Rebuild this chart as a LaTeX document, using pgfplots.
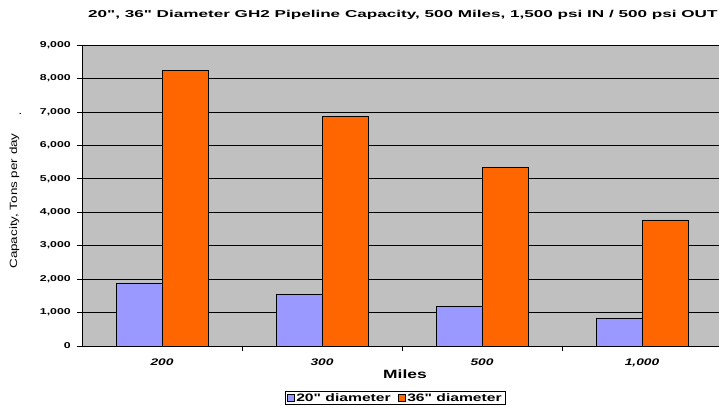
\documentclass[border=0pt]{standalone}
\usepackage{fontspec}
\setmainfont{Liberation Sans}[FakeStretch=1.45, Ligatures=TeXOff]
\usepackage{pgfplots}
\pgfplotsset{compat=1.18}
\definecolor{bblue}{HTML}{9999FF}
\definecolor{borange}{HTML}{FF6600}
\definecolor{pgray}{HTML}{C0C0C0}
\begin{document}
\begin{tikzpicture}[x=1pt,y=1pt]
\useasboundingbox (0,0) rectangle (719,406);
\begin{axis}[at={(82pt,60pt)}, anchor=south west, scale only axis,
  width=640pt, height=301pt,
  xmin=-0.5, xmax=3.5, ymin=0, ymax=9000,
  ybar=0pt, bar width=46pt,
  axis background/.style={fill=pgray},
  axis line style={black, line width=0.8pt},
  ytick={0,1000,...,9000},
  scaled y ticks=false,
  ymajorgrids, grid style={black, line width=0.7pt},
  tick align=outside, major tick length=5pt,
  tick style={black, line width=0.7pt},
  ytick pos=left, xtick pos=bottom,
  yticklabel style={font=\bfseries\fontsize{8.5}{8.5}\selectfont, anchor=east, inner sep=0pt, xshift=-6pt},
  xtick={0.5,1.5,2.5}, xticklabels={},
  extra x ticks={0,1,2,3},
  extra x tick labels={200,300,500,{1,000}},
  extra x tick style={major tick length=0pt, grid=none,
     tick label style={font=\bfseries\itshape\fontsize{9.5}{9.5}\selectfont, anchor=base, yshift=-20pt}},
  legend columns=2,
  legend style={at={(axis description cs:0.489,-0.173)}, anchor=center, draw=black, fill=white,
     line width=0.7pt,
     font=\bfseries\fontsize{10.8}{10.8}\selectfont, inner xsep=2pt, inner ysep=0.5pt,
     nodes={inner sep=1.2pt},
     /tikz/every odd column/.append style={column sep=0pt},
     /tikz/every even column/.append style={column sep=6pt}},
  legend image code/.code={\draw[#1,draw=black,line width=0.6pt] (0pt,-3.5pt) rectangle (7.5pt,3.5pt);},
  /pgf/number format/1000 sep={,},
  /pgf/number format/assume math mode=true,
]
\addplot[fill=bblue, draw=black, line width=0.7pt] coordinates {(0,1870) (1,1530) (2,1190) (3,830)};
\addplot[fill=borange, draw=black, line width=0.7pt] coordinates {(0,8250) (1,6870) (2,5330) (3,3770)};
\legend{20" diameter, 36" diameter}
\end{axis}
\node[anchor=base west, font=\bfseries\fontsize{10}{12}\selectfont, inner sep=0pt] at (88,388.7) {\scalebox{1.18}[1]{20", 36" Diameter GH2 Pipeline Capacity, 500 Miles, 1,500 psi IN / 500 psi OUT}};
\node[anchor=base, font=\bfseries\fontsize{12}{14}\selectfont, inner sep=0pt] at (405,27) {Miles};
\node[rotate=90, font=\fontsize{10.5}{12}\selectfont, inner sep=0pt] at (14.3,205) {\scalebox{0.88}[1]{Capacity, Tons per day}};
\node[anchor=base, font=\fontsize{10}{11}\selectfont, inner sep=0pt] at (20.5,291) {.};
\end{tikzpicture}
\end{document}
